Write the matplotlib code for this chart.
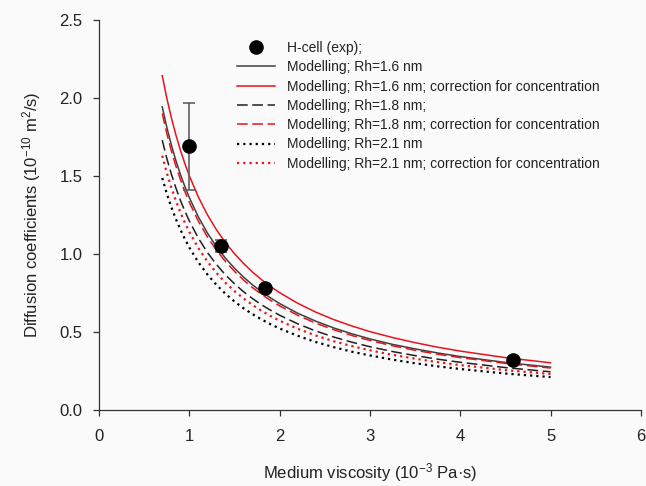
import matplotlib
matplotlib.use("Agg")
import matplotlib.pyplot as plt
from matplotlib.lines import Line2D

plt.rcParams['font.family'] = ['Liberation Sans', 'DejaVu Sans']
plt.rcParams['mathtext.default'] = 'regular'

# Experimental data (H-cell)
exp_visc = [1.0, 1.35, 1.84, 4.58]
exp_D = [1.69, 1.05, 0.78, 0.32]
exp_err = [0.28, 0.04, 0.02, 0.02]

# Model curves
visc = [0.7, 0.75, 0.8, 0.85, 0.9, 0.95, 1.0, 1.1, 1.2, 1.3, 1.4, 1.5, 1.6, 1.7, 1.8, 1.9,
        2.0, 2.2, 2.4, 2.6, 2.8, 3.0, 3.25, 3.5, 3.75, 4.0, 4.5, 5.0]
D_16 = [1.943, 1.813, 1.700, 1.600, 1.511, 1.432, 1.360, 1.236, 1.133, 1.046, 0.971, 0.907, 0.850, 0.800,
        0.756, 0.716, 0.680, 0.618, 0.567, 0.523, 0.486, 0.453, 0.418, 0.389, 0.363, 0.340, 0.302, 0.272]
D_16c = [2.143, 2.000, 1.875, 1.765, 1.667, 1.579, 1.500, 1.364, 1.250, 1.154, 1.071, 1.000, 0.938, 0.882,
         0.833, 0.789, 0.750, 0.682, 0.625, 0.577, 0.536, 0.500, 0.462, 0.429, 0.400, 0.375, 0.333, 0.300]
D_18 = [1.729, 1.613, 1.513, 1.424, 1.344, 1.274, 1.210, 1.100, 1.008, 0.931, 0.864, 0.807, 0.756, 0.712,
        0.672, 0.637, 0.605, 0.550, 0.504, 0.465, 0.432, 0.403, 0.372, 0.346, 0.323, 0.303, 0.269, 0.242]
D_18c = [1.900, 1.773, 1.663, 1.565, 1.478, 1.400, 1.330, 1.209, 1.108, 1.023, 0.950, 0.887, 0.831, 0.782,
         0.739, 0.700, 0.665, 0.605, 0.554, 0.512, 0.475, 0.443, 0.409, 0.380, 0.355, 0.333, 0.296, 0.266]
D_21 = [1.486, 1.387, 1.300, 1.224, 1.156, 1.095, 1.040, 0.945, 0.867, 0.800, 0.743, 0.693, 0.650, 0.612,
        0.578, 0.547, 0.520, 0.473, 0.433, 0.400, 0.371, 0.347, 0.320, 0.297, 0.277, 0.260, 0.231, 0.208]
D_21c = [1.629, 1.520, 1.425, 1.341, 1.267, 1.200, 1.140, 1.036, 0.950, 0.877, 0.814, 0.760, 0.713, 0.671,
         0.633, 0.600, 0.570, 0.518, 0.475, 0.438, 0.407, 0.380, 0.351, 0.326, 0.304, 0.285, 0.253, 0.228]

labels = ["H-cell (exp);",
          "Modelling; Rh=1.6 nm",
          "Modelling; Rh=1.6 nm; correction for concentration",
          "Modelling; Rh=1.8 nm;",
          "Modelling; Rh=1.8 nm; correction for concentration",
          "Modelling; Rh=2.1 nm",
          "Modelling; Rh=2.1 nm; correction for concentration"]

bg = '#fafafa'
red = '#e8141c'
txt = '#222222'
fig = plt.figure(figsize=(6.46, 4.86), dpi=100, facecolor=bg)
ax = fig.add_axes([0.1533, 0.1574, 0.992 - 0.1533, 0.9588 - 0.1574])
ax.set_facecolor(bg)

ax.errorbar(exp_visc, exp_D, yerr=exp_err, fmt='o', color='black', ms=9.5,
            ecolor='#606060', elinewidth=1.2, capsize=4.5, capthick=1.2, zorder=5)
h_exp = Line2D([], [], ls='none', marker='o', color='black', ms=9.5)
l1, = ax.plot(visc, D_16, color='#404040', lw=1.1, ls='-')
l2, = ax.plot(visc, D_16c, color=red, lw=1.1, ls='-')
l3, = ax.plot(visc, D_18, color='#202020', lw=1.1, ls=(0, (7, 3)))
l4, = ax.plot(visc, D_18c, color=red, lw=1.1, ls=(0, (7, 3)))
l5, = ax.plot(visc, D_21, color='black', lw=1.6, ls=(0, (1, 1.8)))
l6, = ax.plot(visc, D_21c, color=red, lw=1.6, ls=(0, (1, 1.8)))

ax.set_xlim(0, 6)
ax.set_ylim(0, 2.5)
ax.set_xticks([0, 1, 2, 3, 4, 5, 6])
ax.set_yticks([0.0, 0.5, 1.0, 1.5, 2.0, 2.5])
ax.set_yticklabels(['0.0', '0.5', '1.0', '1.5', '2.0', '2.5'])
for s in ['top', 'right']:
    ax.spines[s].set_visible(False)
for s in ['left', 'bottom']:
    ax.spines[s].set_color('#333333')
    ax.spines[s].set_linewidth(0.9)
ax.tick_params(direction='out', length=4, width=0.9, colors='#333333', labelsize=12,
               labelcolor=txt)
ax.tick_params(axis='x', pad=10)
ax.tick_params(axis='y', pad=8)
ax.set_xlabel("Medium viscosity (10$^{-3}$ Pa·s)", fontsize=12, color=txt, labelpad=12)
ax.set_ylabel("Diffusion coefficients (10$^{-10}$ m$^{2}$/s)", fontsize=12, color=txt, labelpad=12)

leg = ax.legend([h_exp, l1, l2, l3, l4, l5, l6], labels, loc='upper left',
                bbox_to_anchor=(236.5 / 646, 1 - 41 / 486), bbox_transform=fig.transFigure,
                frameon=False, fontsize=10, handlelength=2.8, handletextpad=0.86,
                labelspacing=0.38, borderaxespad=0, borderpad=0)
for t in leg.get_texts():
    t.set_color(txt)

fig.savefig('out.png', dpi=100, facecolor=bg)
